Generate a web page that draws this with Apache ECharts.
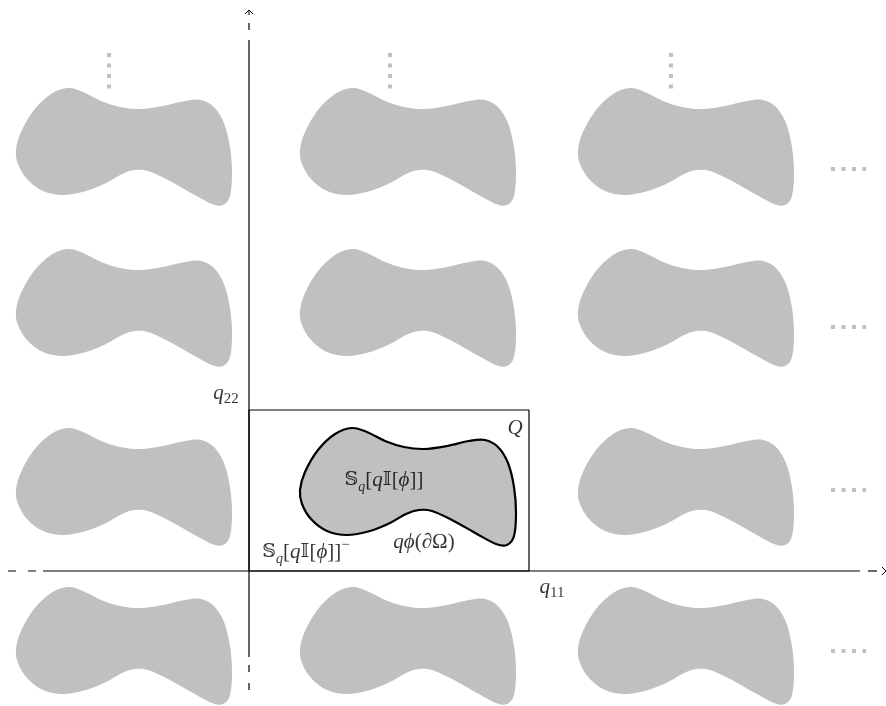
<!DOCTYPE html>
<html>
<head>
<meta charset="utf-8">
<script src="https://cdn.jsdelivr.net/npm/echarts@6/dist/echarts.min.js"></script>
<style>
  html, body { margin: 0; padding: 0; background: #fff; }
  #chart { width: 886px; height: 706px; }
</style>
</head>
<body>
<div id="chart"></div>
<script>
// outline of the inclusion inside the unit cell Q (cell = [0,280] x [0,161])
var outlineX = [51, 56, 69, 86, 103, 118, 136, 155, 175, 198, 220, 236, 249, 259, 265, 267, 265, 258, 247, 228, 203, 183, 170, 157, 141, 121, 98, 78, 62, 53];
var outlineY = [81, 99, 121, 137, 143, 139, 130, 124, 122, 125, 130, 131, 124, 108, 84, 58, 35, 26, 27, 37, 51, 60, 61, 57, 48, 40, 36, 40, 52, 67];

// lattice shifts of the periodic copies
var colShifts = [-284, 0, 278];
var rowShifts = [340, 179, 0, -159];

// ellipsis positions
var vDotsX = [-140, 141, 422];
var hDotsY = [402, 244, 81, -80];

var cells = [];
rowShifts.forEach(function (dy) {
  colShifts.forEach(function (dx) {
    cells.push([dx, dy, dx === 0 && dy === 0 ? 1 : 0]);
  });
});

function seg(data, width, color, type) {
  return {
    type: 'line', data: data, symbol: 'none', silent: true, z: 5,
    lineStyle: { color: color || '#000', width: width || 1.2, type: type || 'solid', cap: 'butt' }
  };
}

// closed catmull-rom curve through the pixel points
function closedCurve(p) {
  var n = p.length, d = 'M' + p[0][0] + ' ' + p[0][1];
  for (var i = 0; i < n; i++) {
    var p0 = p[(i - 1 + n) % n], p1 = p[i], p2 = p[(i + 1) % n], p3 = p[(i + 2) % n];
    d += ' C' + (p1[0] + (p2[0] - p0[0]) / 6) + ' ' + (p1[1] + (p2[1] - p0[1]) / 6) +
         ' ' + (p2[0] - (p3[0] - p1[0]) / 6) + ' ' + (p2[1] - (p3[1] - p1[1]) / 6) +
         ' ' + p2[0] + ' ' + p2[1];
  }
  return d + ' Z';
}

var series = [
  {
    type: 'custom',
    data: cells,
    silent: true,
    clip: false,
    z: 2,
    renderItem: function (params, api) {
      var dx = api.value(0), dy = api.value(1), main = api.value(2) === 1;
      var pts = outlineX.map(function (x, i) { return api.coord([x + dx, outlineY[i] + dy]); });
      return {
        type: 'path',
        shape: { pathData: closedCurve(pts) },
        style: { fill: '#c0c0c0', stroke: main ? '#000' : null, lineWidth: main ? 2.2 : 0 },
        z2: main ? 10 : 1
      };
    }
  },
  // horizontal axis
  seg([[-206, 0], [611, 0]]),
  seg([[-241, 0], [-213, 0]], 1.2, '#000', [8, 12]),
  seg([[619, 0], [628, 0]]),
  seg([[633, 4], [637, 0], [633, -4]], 1),
  // vertical axis
  seg([[0, 531], [0, -86]]),
  seg([[0, 548], [0, 541]]),
  seg([[-4, 557], [0, 561], [4, 557]], 1),
  seg([[0, 561], [0, 556]], 1),
  seg([[0, -94], [0, -119]], 1.2, '#000', [7, 11]),
  // cell Q
  seg([[0, 0], [280, 0], [280, 161], [0, 161], [0, 0]], 1.2)
];

vDotsX.forEach(function (x) {
  series.push(seg([[x, 518], [x, 482]], 4, '#c0c0c0', [4, 6.5]));
});
hDotsY.forEach(function (y) {
  series.push(seg([[582, y], [617, y]], 4, '#c0c0c0', [4, 6.5]));
});

var serif = '"Liberation Serif", "DejaVu Serif", serif';
var rich = {
  r: { fontFamily: serif, fontSize: 21, color: '#000', lineHeight: 28 },
  bb: { fontFamily: '"DejaVu Serif", "DejaVu Sans", serif', fontSize: 19, color: '#000', lineHeight: 28 },
  i: { fontFamily: serif, fontStyle: 'italic', fontSize: 21, color: '#000', lineHeight: 28 },
  sub: { fontFamily: serif, fontStyle: 'italic', fontSize: 14, color: '#000', verticalAlign: 'bottom', lineHeight: 28 },
  subn: { fontFamily: serif, fontSize: 15, color: '#000', verticalAlign: 'bottom', lineHeight: 28 },
  sup: { fontFamily: serif, fontSize: 15, color: '#000', verticalAlign: 'top', lineHeight: 28 }
};
var sTxt = '{bb|𝕊}{sub|q}{r|[}{i|q}{bb|𝕀}{r|[}{i|ϕ}{r|]]}';
function lab(pos, text) {
  return { value: pos, label: { show: true, position: 'inside', formatter: text, rich: rich } };
}
series.push({
  type: 'scatter', symbolSize: 0, silent: true, z: 10,
  data: [
    lab([135, 91], sTxt),
    lab([175, 29], '{i|qϕ}{r|(}{i|∂}{r|Ω)}'),
    lab([57, 19], sTxt + '{sup|−}'),
    lab([266, 143], '{i|Q}'),
    lab([-23, 178], '{i|q}{subn|22}'),
    lab([303, -16], '{i|q}{subn|11}')
  ]
});

var chart = echarts.init(document.getElementById('chart'));
chart.setOption({
  animation: false,
  backgroundColor: '#fff',
  grid: { left: 0, right: 0, top: 0, bottom: 0 },
  xAxis: { type: 'value', min: -249, max: 637, show: false },
  yAxis: { type: 'value', min: -135, max: 571, show: false },
  series: series
});
</script>
</body>
</html>
